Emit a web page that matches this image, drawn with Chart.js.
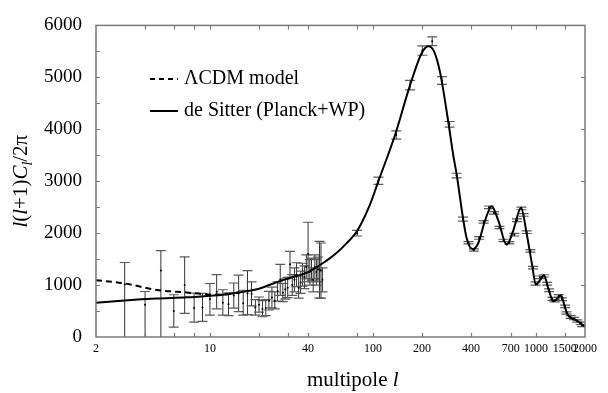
<!DOCTYPE html>
<html><head><meta charset="utf-8">
<script src="https://cdn.jsdelivr.net/npm/chart.js@4/dist/chart.umd.min.js"></script>
<style>html,body{margin:0;padding:0;background:#fff}#wrap{width:608px;height:393px;position:relative}</style>
</head><body><div id="wrap"><canvas id="c" width="608" height="393"></canvas></div>
<script>
const FONT = "'Liberation Serif','Times New Roman',serif";
// axis ticks
const xTickLabels = [2, 10, 40, 100, 200, 400, 700, 1000, 1500, 2000];
const xTickMarks = [4, 6, 8, 10, 20, 30, 40, 80, 100, 200, 400, 700, 1000, 1500];
const yTickLabels = [0, 1000, 2000, 3000, 4000, 5000, 6000];
const yMinorLeft = [500, 1000, 1500, 2000, 2500, 3000, 3500, 4000, 4500, 5000, 5500];
const yMinorRight = [1000, 2000, 3000, 4000, 5000];

// de Sitter (Planck+WP) model curve
const sitterL = [2, 3, 4.7, 7.2, 10, 12, 15, 20, 26, 32, 40, 52, 60, 69, 80, 96, 108, 137, 169, 200, 219, 237, 258, 290, 311, 326, 357, 376, 409, 443, 487, 535, 588, 662, 727, 810, 877, 942, 1000, 1059, 1120, 1190, 1279, 1426, 1508, 1581, 1779, 1952, 2000];
const sitterD = [658, 702, 740, 764, 795, 815, 857, 930, 1062, 1150, 1250, 1472, 1620, 1807, 2040, 2553, 3000, 3900, 4850, 5480, 5600, 5500, 5100, 4140, 3500, 3140, 2290, 1900, 1690, 1810, 2240, 2520, 2240, 1776, 2055, 2490, 1994, 1435, 1012, 1094, 1187, 937, 689, 801, 565, 410, 317, 224, 200];

// LambdaCDM model (differs only at low l)
const lcdmL = [2, 3, 4.7, 7.2, 9.3, 12, 15];
const lcdmD = [1094, 1031, 907, 857, 825, 815, 857];

// low-l data points (asymmetric errors)
const lowL  = [3, 4, 5, 6, 7, 8, 9, 10, 11, 12, 13, 14, 15, 16, 17, 18, 19, 20, 21, 22, 23, 24, 25, 26, 27, 28, 29, 30, 31, 32, 33, 34, 35, 36, 37, 38, 39, 40, 41, 42, 43, 44, 45, 46, 47, 48, 49];
const lowD  = [1010, 620, 1280, 500, 1000, 560, 570, 730, 870, 660, 630, 800, 840, 650, 840, 830, 570, 620, 540, 560, 700, 760, 700, 880, 1100, 850, 920, 950, 1400, 1000, 1100, 1200, 950, 1050, 1200, 1150, 1350, 1600, 1250, 1300, 1100, 1350, 1250, 1300, 1300, 1280, 1100];
const lowLo = [-300, -300, -300, 190, 453, 285, 300, 420, 540, 420, 410, 555, 490, 420, 430, 600, 420, 480, 390, 410, 520, 560, 540, 690, 800, 680, 730, 760, 1150, 800, 870, 970, 750, 840, 980, 930, 1120, 1060, 1000, 1080, 870, 1120, 1000, 1060, 750, 750, 870];
const lowHi = [1435, 876, 1664, 814, 1541, 844, 840, 1030, 1200, 910, 850, 1040, 1190, 900, 1280, 1060, 720, 770, 700, 720, 880, 960, 870, 1060, 1400, 1030, 1120, 1150, 1650, 1200, 1330, 1430, 1160, 1270, 1420, 1370, 1580, 2210, 1490, 1520, 1330, 1580, 1500, 1540, 1840, 1810, 1330];

// binned high-l data points (symmetric errors)
const binL   = [80, 108, 139, 169, 201, 231, 265, 295, 326, 357, 386, 416, 448, 478, 515, 553, 597, 632, 687, 737, 765, 815, 840, 877, 925, 960, 995, 1059, 1120, 1172, 1205, 1262, 1302, 1379, 1445, 1512, 1540, 1633, 1710, 1793, 1880, 1925];
const binD   = [2000, 3010, 3890, 4850, 5515, 5695, 4940, 4095, 3108, 2270, 1815, 1675, 1907, 2217, 2497, 2390, 2110, 1860, 1816, 1970, 2248, 2475, 2350, 2018, 1658, 1335, 1030, 1150, 1177, 1025, 900, 733, 700, 790, 727, 590, 463, 385, 354, 307, 263, 220];
const binErr = [55, 70, 80, 90, 90, 85, 75, 55, 45, 38, 22, 22, 25, 25, 25, 25, 22, 22, 22, 25, 25, 25, 25, 25, 25, 25, 30, 25, 22, 25, 25, 30, 22, 25, 25, 25, 22, 25, 22, 22, 22, 20];

const pts = (xs, ys) => xs.map((x, i) => ({ x: x, y: ys[i] }));

const errorBars = {
  id: 'errorBars',
  beforeDatasetsDraw(chart) {
    const { ctx, chartArea: a, scales: { x, y } } = chart;
    ctx.save();
    ctx.beginPath(); ctx.rect(a.left, a.top, a.right - a.left, a.bottom - a.top); ctx.clip();
    const cap = 5;
    const draw = (l, lo, hi) => {
      const px = x.getPixelForValue(l), p1 = y.getPixelForValue(lo), p2 = y.getPixelForValue(hi);
      ctx.strokeStyle = '#333'; ctx.lineWidth = 1;
      ctx.beginPath(); ctx.moveTo(px, p1); ctx.lineTo(px, p2); ctx.stroke();
      ctx.strokeStyle = '#5a5a5a'; ctx.lineWidth = 1.2;
      ctx.beginPath();
      ctx.moveTo(px - cap, p1); ctx.lineTo(px + cap, p1);
      ctx.moveTo(px - cap, p2); ctx.lineTo(px + cap, p2);
      ctx.stroke();
    };
    lowL.forEach((l, i) => draw(l, lowLo[i], lowHi[i]));
    binL.forEach((l, i) => draw(l, binD[i] - binErr[i], binD[i] + binErr[i]));
    ctx.restore();
  }
};

const frame = {
  id: 'frame',
  afterDraw(chart) {
    const { ctx, chartArea: a, scales: { x, y } } = chart;
    ctx.save();
    ctx.strokeStyle = '#7a7a7a'; ctx.lineWidth = 1.5;
    ctx.strokeRect(a.left, a.top, a.right - a.left, a.bottom - a.top);
    ctx.lineWidth = 1.2;
    ctx.beginPath();
    const t = 4;
    xTickMarks.forEach(v => {
      const px = Math.round(x.getPixelForValue(v)) + 0.5;
      ctx.moveTo(px, a.bottom); ctx.lineTo(px, a.bottom - t);
      ctx.moveTo(px, a.top); ctx.lineTo(px, a.top + t);
    });
    yMinorLeft.forEach(v => {
      const py = Math.round(y.getPixelForValue(v)) + 0.5;
      ctx.moveTo(a.left, py); ctx.lineTo(a.left + t, py);
    });
    yMinorRight.forEach(v => {
      const py = Math.round(y.getPixelForValue(v)) + 0.5;
      ctx.moveTo(a.right, py); ctx.lineTo(a.right - t, py);
    });
    ctx.stroke();

    // legend
    const ds = chart.data.datasets;
    ctx.fillStyle = '#000'; ctx.textBaseline = 'middle';
    ctx.font = '20px ' + FONT;
    ctx.strokeStyle = '#000'; ctx.lineWidth = 2;
    ctx.setLineDash([5, 4]);
    ctx.beginPath(); ctx.moveTo(150, 79); ctx.lineTo(178, 79); ctx.stroke();
    ctx.setLineDash([]);
    ctx.beginPath(); ctx.moveTo(150, 111); ctx.lineTo(178, 111); ctx.stroke();
    ctx.fillText(ds[1].label, 184, 79);
    ctx.fillText(ds[0].label, 184, 111);

    // x title
    ctx.textBaseline = 'alphabetic';
    ctx.font = '21px ' + FONT;
    const s1 = 'multipole ';
    ctx.fillText(s1, 307, 386);
    const w1 = ctx.measureText(s1).width;
    ctx.font = 'italic 21px ' + FONT;
    ctx.fillText('l', 307 + w1, 386);

    // y title
    const parts = [
      ['l', 'italic 21px', 0], ['(', '21px', 0], ['l', 'italic 21px', 0], ['+1)', '21px', 0],
      ['C', 'italic 21px', 0], ['l', 'italic 14px', 5], ['/2π', '21px', 0]
    ];
    let total = 0;
    parts.forEach(p => { ctx.font = p[1] + ' ' + FONT; total += ctx.measureText(p[0]).width; });
    const cy = (a.top + a.bottom) / 2;
    ctx.translate(27, cy + total / 2);
    ctx.rotate(-Math.PI / 2);
    let xo = 0;
    parts.forEach(p => {
      ctx.font = p[1] + ' ' + FONT;
      ctx.fillText(p[0], xo, p[2]);
      xo += ctx.measureText(p[0]).width;
    });
    ctx.restore();
  }
};

new Chart(document.getElementById('c'), {
  type: 'line',
  data: {
    datasets: [
      { label: 'de Sitter (Planck+WP)', data: pts(sitterL, sitterD), borderColor: '#000', borderWidth: 2, pointRadius: 0, cubicInterpolationMode: 'monotone', fill: false, order: 1 },
      { label: 'ΛCDM model', data: pts(lcdmL, lcdmD), borderColor: '#000', borderWidth: 2, borderDash: [6, 4], pointRadius: 0, cubicInterpolationMode: 'monotone', fill: false, order: 2 },
      { label: 'data', type: 'scatter', data: pts(lowL, lowD).concat(pts(binL, binD)), pointRadius: 1, pointBackgroundColor: '#000', pointBorderWidth: 0, showLine: false, order: 3 }
    ]
  },
  options: {
    responsive: false, animation: false, devicePixelRatio: 1,
    layout: { padding: { left: 0, right: 23, top: 15, bottom: 0 } },
    plugins: { legend: { display: false }, tooltip: { enabled: false } },
    scales: {
      x: {
        type: 'logarithmic', min: 2, max: 2000,
        afterBuildTicks: s => { s.ticks = xTickLabels.map(v => ({ value: v })); },
        afterFit: s => { s.height = 56; },
        grid: { display: false, drawTicks: false }, border: { display: false },
        ticks: { autoSkip: false, maxRotation: 0, minRotation: 0, padding: 5, color: '#000', font: { family: FONT, size: 12 }, callback: v => String(v) }
      },
      y: {
        type: 'linear', min: 0, max: 6000,
        afterBuildTicks: s => { s.ticks = yTickLabels.map(v => ({ value: v })); },
        afterFit: s => { s.width = 96; },
        grid: { display: false, drawTicks: false }, border: { display: false },
        ticks: { padding: 14, color: '#000', font: { family: FONT, size: 19 }, callback: v => String(v) }
      }
    }
  },
  plugins: [errorBars, frame]
});
</script></body></html>
